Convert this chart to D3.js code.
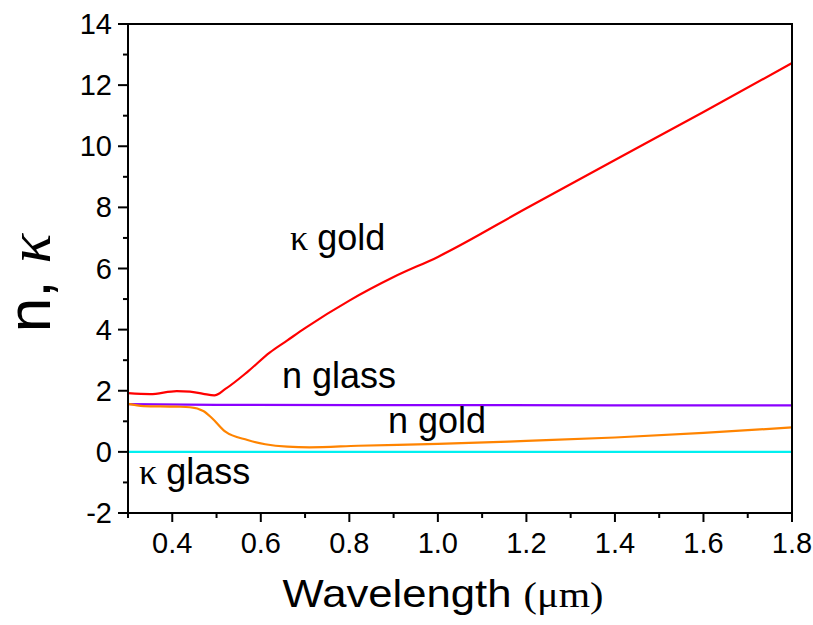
<!DOCTYPE html>
<html>
<head>
<meta charset="utf-8">
<script src="https://cdn.jsdelivr.net/npm/d3@7"></script>
<style>
  body { margin: 0; background: #fff; }
  text { font-family: "Liberation Sans", Arial, sans-serif; fill: #000; }
</style>
</head>
<body>
<svg id="chart" width="813" height="625"></svg>
<script>
// data (wavelength in um)
var kGoldX = [0.30, 0.35, 0.41, 0.44, 0.47, 0.495, 0.52, 0.57, 0.62, 0.66, 0.70, 0.80, 0.90, 1.00, 1.20, 1.40, 1.60, 1.80];
var kGoldY = [1.92, 1.89, 1.99, 1.97, 1.90, 1.85, 2.06, 2.62, 3.25, 3.65, 4.05, 4.95, 5.72, 6.38, 7.97, 9.55, 11.12, 12.72];

var nGoldX = [0.30, 0.335, 0.41, 0.44, 0.47, 0.49, 0.52, 0.57, 0.61, 0.66, 0.71, 0.82, 1.00, 1.20, 1.40, 1.60, 1.80];
var nGoldY = [1.57, 1.50, 1.48, 1.46, 1.34, 1.10, 0.66, 0.39, 0.25, 0.17, 0.15, 0.20, 0.26, 0.36, 0.47, 0.62, 0.80];

var nGlassX = [0.30, 0.50, 1.00, 1.80];
var nGlassY = [1.56, 1.54, 1.53, 1.52];

var kGlassX = [0.30, 1.80];
var kGlassY = [0, 0];

var xMajor = [0.4, 0.6, 0.8, 1.0, 1.2, 1.4, 1.6, 1.8];
var xMinor = [0.3, 0.5, 0.7, 0.9, 1.1, 1.3, 1.5, 1.7];
var yMajor = [-2, 0, 2, 4, 6, 8, 10, 12, 14];
var yMinor = [-1, 1, 3, 5, 7, 9, 11, 13];

var svg = d3.select('#chart');
var mLeft = 128, mRight = 792, mTop = 24, mBottom = 513;

var x = d3.scaleLinear().domain([0.3, 1.8]).range([mLeft, mRight]);
var y = d3.scaleLinear().domain([-2, 14]).range([mBottom, mTop]);

function zip(xs, ys) {
    return xs.map(function (v, i) { return [v, ys[i]]; });
}

var line = d3.line()
    .x(function (d) { return x(d[0]); })
    .y(function (d) { return y(d[1]); })
    .curve(d3.curveMonotoneX);

var series = [
    {data: zip(kGlassX, kGlassY), color: '#00f0f0'},
    {data: zip(nGlassX, nGlassY), color: '#8a00ff'},
    {data: zip(nGoldX, nGoldY), color: '#ff8400'},
    {data: zip(kGoldX, kGoldY), color: '#ff0000'}
];

svg.selectAll('path.series')
    .data(series)
    .enter().append('path')
    .attr('class', 'series')
    .attr('d', function (d) { return line(d.data); })
    .attr('fill', 'none')
    .attr('stroke', function (d) { return d.color; })
    .attr('stroke-width', 2.2);

// frame
svg.append('rect')
    .attr('x', mLeft).attr('y', mTop)
    .attr('width', mRight - mLeft).attr('height', mBottom - mTop)
    .attr('fill', 'none').attr('stroke', '#000').attr('stroke-width', 2);

// x axis ticks
var xAxis = svg.append('g');
xAxis.selectAll('line.maj').data(xMajor).enter().append('line')
    .attr('x1', function (d) { return x(d); }).attr('x2', function (d) { return x(d); })
    .attr('y1', mBottom).attr('y2', mBottom + 9)
    .attr('stroke', '#000').attr('stroke-width', 2);
xAxis.selectAll('line.min').data(xMinor).enter().append('line')
    .attr('x1', function (d) { return x(d); }).attr('x2', function (d) { return x(d); })
    .attr('y1', mBottom).attr('y2', mBottom + 5)
    .attr('stroke', '#000').attr('stroke-width', 2);
xAxis.selectAll('text').data(xMajor).enter().append('text')
    .attr('x', function (d) { return x(d); })
    .attr('y', mBottom + 40)
    .attr('text-anchor', 'middle')
    .attr('font-size', 29)
    .text(function (d) { return d.toFixed(1); });

// y axis ticks
var yAxis = svg.append('g');
yAxis.selectAll('line.maj').data(yMajor).enter().append('line')
    .attr('y1', function (d) { return y(d); }).attr('y2', function (d) { return y(d); })
    .attr('x1', mLeft).attr('x2', mLeft - 10)
    .attr('stroke', '#000').attr('stroke-width', 2);
yAxis.selectAll('line.min').data(yMinor).enter().append('line')
    .attr('y1', function (d) { return y(d); }).attr('y2', function (d) { return y(d); })
    .attr('x1', mLeft).attr('x2', mLeft - 5)
    .attr('stroke', '#000').attr('stroke-width', 2);
yAxis.selectAll('text').data(yMajor).enter().append('text')
    .attr('x', mLeft - 16)
    .attr('y', function (d) { return y(d) + 10; })
    .attr('text-anchor', 'end')
    .attr('font-size', 29)
    .text(function (d) { return d; });

// axis titles
var xt = svg.append('text')
    .attr('transform', 'translate(443,607) scale(1.12,1)')
    .attr('text-anchor', 'middle')
    .attr('font-size', 39);
xt.append('tspan').text('Wavelength ');
xt.append('tspan').attr('font-size', 36).attr('font-family', '"Liberation Serif", serif').text('(μm)');

var yt = svg.append('text')
    .attr('transform', 'translate(50,283) rotate(-90)')
    .attr('text-anchor', 'middle')
    .attr('font-size', 62);
yt.append('tspan').text('n, ');
yt.append('tspan').attr('font-family', '"Liberation Serif", serif').attr('font-style', 'italic').text('κ');

// curve labels
var labels = [
    {t: 'gold', g: 'κ', x: 290, y: 250},
    {t: 'glass', g: 'n', x: 282, y: 388},
    {t: 'gold', g: 'n', x: 388, y: 433},
    {t: 'glass', g: 'κ', x: 139, y: 484}
];
labels.forEach(function (l) {
    var t = svg.append('text').attr('x', l.x).attr('y', l.y).attr('font-size', 36);
    if (l.g === 'κ') {
        t.append('tspan').attr('font-family', '"Liberation Serif", serif').text('κ ');
    } else {
        t.append('tspan').text('n ');
    }
    t.append('tspan').text(l.t);
});
</script>
</body>
</html>
